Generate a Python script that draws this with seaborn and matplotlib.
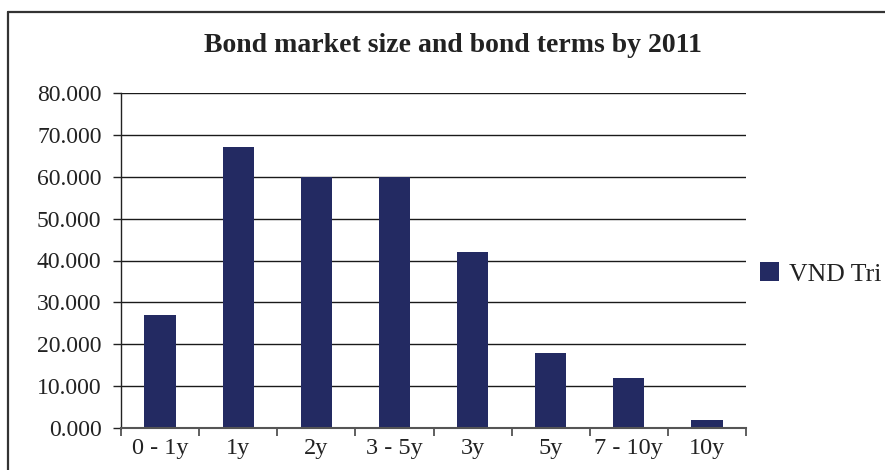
import matplotlib
matplotlib.use("Agg")
import matplotlib.pyplot as plt
import matplotlib.ticker as mticker
from matplotlib.lines import Line2D
import seaborn as sns
import pandas as pd

terms = ["0 - 1y", "1y", "2y", "3 - 5y", "3y", "5y", "7 - 10y", "10y"]
size_vnd_tri = [27, 67, 60, 60, 42, 18, 12, 2]
series_name = "VND Tri"
title = "Bond market size and bond terms by 2011"

df = pd.DataFrame({"term": terms, "value": size_vnd_tri})

sns.set_theme(style="white")
plt.rcParams["font.family"] = ["Liberation Serif", "DejaVu Serif"]

fig = plt.figure(figsize=(8.85, 4.7), dpi=100)
ax = fig.add_axes([121 / 885, 1 - 428 / 470, (746 - 121) / 885, (428 - 93) / 470])

bar_color = "#232a62"
sns.barplot(data=df, x="term", y="value", color=bar_color, width=0.4,
            saturation=1, linewidth=0, label=series_name, ax=ax)

ax.set_ylim(0, 80)
ax.set_xlim(-0.5, len(terms) - 0.5)
ax.yaxis.set_major_locator(mticker.MultipleLocator(10))
ax.yaxis.set_major_formatter(mticker.FormatStrFormatter("%.3f"))
ax.set_xlabel("")
ax.set_ylabel("")

# horizontal gridlines behind bars
ax.set_axisbelow(True)
ax.yaxis.grid(True, color="#1a1a1a", linewidth=1.0)
ax.xaxis.grid(False)

# category boundary ticks on the x axis
ax.set_xticks(range(len(terms)))
ax.set_xticklabels(terms)
ax.xaxis.set_minor_locator(mticker.FixedLocator([i - 0.5 for i in range(len(terms) + 1)]))
ax.tick_params(axis="x", which="major", length=0, pad=7, labelsize=17.5, labelcolor="#222222")
ax.tick_params(axis="x", which="minor", length=6, width=1.2, color="#444444", direction="out", bottom=True)
ax.tick_params(axis="y", which="major", length=6, width=1.0, color="#222222", direction="out",
               left=True, labelsize=17, labelcolor="#222222", pad=8)

for side in ["top", "right"]:
    ax.spines[side].set_visible(False)
ax.spines["left"].set_color("#222222")
ax.spines["left"].set_linewidth(1.0)
ax.spines["bottom"].set_color("#555555")
ax.spines["bottom"].set_linewidth(1.5)

fig.text(453 / 885, 1 - 45 / 470, title, ha="center", va="center",
         fontsize=20, fontweight="bold", color="#222222")

leg = ax.legend(loc="center left", bbox_to_anchor=(0.985, 0.46), frameon=False,
                fontsize=18.5, handlelength=0.75, handleheight=0.75, handletextpad=0.4,
                labelcolor="#222222")

# outer frame of the chart area (left and top edges)
frame_x = 8 / 885
frame_y = 1 - 12 / 470
fig.add_artist(Line2D([frame_x, frame_x], [0, frame_y], transform=fig.transFigure,
                      color="#333333", linewidth=1.6))
fig.add_artist(Line2D([frame_x, 1], [frame_y, frame_y], transform=fig.transFigure,
                      color="#333333", linewidth=1.6))

fig.savefig("out.png", dpi=100)
